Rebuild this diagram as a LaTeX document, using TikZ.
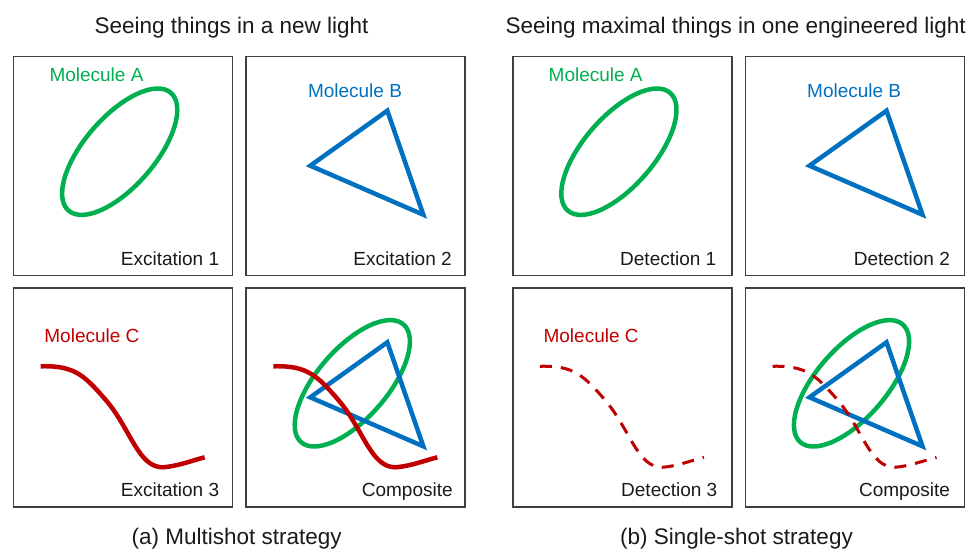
\documentclass[tikz,border=0pt]{standalone}
\usepackage{fontspec}
\setmainfont{Liberation Sans}
\usetikzlibrary{positioning}
\definecolor{verde}{HTML}{00B050}
\definecolor{azul}{HTML}{0070C0}
\definecolor{granate}{HTML}{C00000}
\definecolor{marco}{HTML}{404040}
\definecolor{tinta}{HTML}{1A1A1A}

\begin{document}
\begin{tikzpicture}[x=1pt,y=-1pt,
      panel/.style={draw=marco,line width=1.6pt,minimum width=219pt,minimum height=219pt,inner sep=0pt},
      tag/.style={anchor=base east,inner sep=0pt,text=tinta,font=\fontsize{19}{22}\selectfont},
      mol/.style={anchor=base west,inner sep=0pt,font=\fontsize{19}{22}\selectfont},
      head/.style={anchor=base,inner sep=0pt,text=tinta,font=\fontsize{22.5}{26}\selectfont},
      trazo/.style={line width=4.5pt},
      rayas/.style={line width=3pt,dash pattern=on 12pt off 9pt},
      mola/.pic={\draw[trazo,verde,shift={(107,96)},rotate=49] (0,0) ellipse [x radius=78,y radius=35];},
      molb/.pic={\draw[trazo,azul,line join=miter] (65,110) -- (142,55) -- (178,159) -- cycle;},
      molc/.pic={\draw[granate,pic actions] (28,79) .. controls (62,78) and (72,88) .. (95,115)
                 .. controls (118,143) and (126,180) .. (150,180) .. controls (165,179) and (180,173) .. (192,170);},
      node distance=11pt and 12pt]
    \useasboundingbox (0,0) rectangle (968,552);
    % (a) multishot
    \node[panel,anchor=north west] (ex1) at (12.7,55.7) {};
    \node[panel,right=of ex1] (ex2) {};
    \node[panel,below=of ex1] (ex3) {};
    \node[panel,below=of ex2] (comp1) {};
    % (b) single-shot
    \node[panel,right=46pt of ex2] (det1) {};
    \node[panel,right=of det1] (det2) {};
    \node[panel,below=of det1] (det3) {};
    \node[panel,below=of det2] (comp2) {};
    % molecules
    \pic at (ex1.north west) {mola};
    \pic at (ex2.north west) {molb};
    \pic[trazo] at (ex3.north west) {molc};
    \pic at (comp1.north west) {mola};
    \pic at (comp1.north west) {molb};
    \pic[trazo] at (comp1.north west) {molc};
    \pic at (det1.north west) {mola};
    \pic at (det2.north west) {molb};
    \pic[rayas] at (det3.north west) {molc};
    \pic at (comp2.north west) {mola};
    \pic at (comp2.north west) {molb};
    \pic[rayas] at (comp2.north west) {molc};
    \node[mol,text=verde] (na1) at ([shift={(36.6,26)}]ex1.north west) {Molecule A};
    \node[mol,text=azul] (nb1) at ([shift={(62.5,42)}]ex2.north west) {Molecule B};
    \node[mol,text=granate] (nc1) at ([shift={(31.5,55)}]ex3.north west) {Molecule C};
    \node[mol,text=verde] (na2) at ([shift={(36.6,26)}]det1.north west) {Molecule A};
    \node[mol,text=azul] (nb2) at ([shift={(62.5,42)}]det2.north west) {Molecule B};
    \node[mol,text=granate] (nc2) at ([shift={(31.5,55)}]det3.north west) {Molecule C};
    % panel tags
    \node[tag] (tex1) at ([shift={(-14,-11)}]ex1.south east) {Excitation 1};
    \node[tag] (tex2) at ([shift={(-14,-11)}]ex2.south east) {Excitation 2};
    \node[tag] (tex3) at ([shift={(-14,-11)}]ex3.south east) {Excitation 3};
    \node[tag] (tcomp1) at ([shift={(-13,-11)}]comp1.south east) {Composite};
    \node[tag] (tdet1) at ([shift={(-16,-11)}]det1.south east) {Detection 1};
    \node[tag] (tdet2) at ([shift={(-15,-11)}]det2.south east) {Detection 2};
    \node[tag] (tdet3) at ([shift={(-15,-11)}]det3.south east) {Detection 3};
    \node[tag] (tcomp2) at ([shift={(-15,-11)}]comp2.south east) {Composite};
    % titles and captions
    \node[head] (ttla) at (231.5,33) {Seeing things in a new light};
    \node[head] (ttlb) at (735.7,33) {Seeing maximal things in one engineered light};
    \node[head] (capa) at (236.7,544) {(a) Multishot strategy};
    \node[head] (capb) at (736.5,544) {(b) Single-shot strategy};
  \end{tikzpicture}
\end{document}
